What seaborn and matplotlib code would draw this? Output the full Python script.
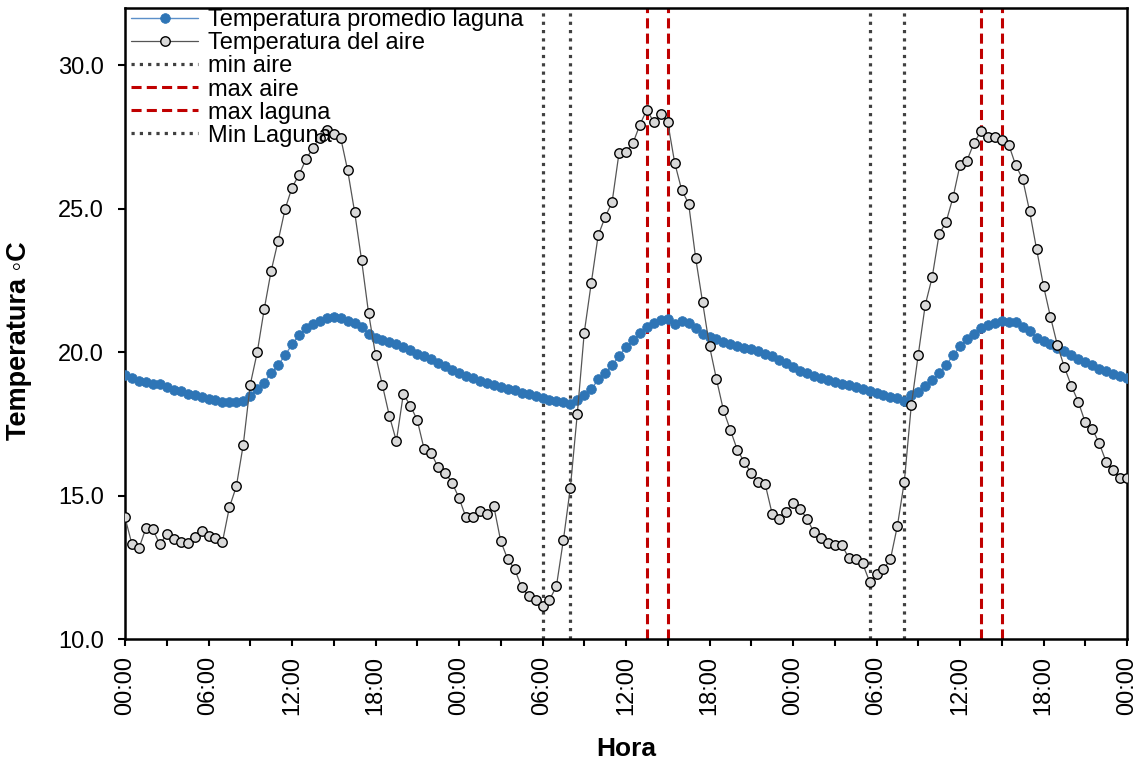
import numpy as np
import pandas as pd
import matplotlib
matplotlib.use("Agg")
import matplotlib.pyplot as plt
from matplotlib.ticker import FormatStrFormatter, MultipleLocator
import seaborn as sns

# ---------------- data ----------------
horas = [i * 0.5 for i in range(145)]  # half-hourly, 3 days

temp_laguna = [
    19.19, 19.11, 19.01, 18.97, 18.90, 18.90, 18.79, 18.69, 18.63, 18.54,
    18.50, 18.43, 18.37, 18.33, 18.27, 18.25, 18.25, 18.29, 18.48, 18.71,
    18.94, 19.27, 19.55, 19.89, 20.27, 20.60, 20.83, 21.00, 21.10, 21.18,
    21.21, 21.20, 21.09, 21.01, 20.87, 20.63, 20.50, 20.44, 20.34, 20.27,
    20.18, 20.07, 19.94, 19.85, 19.75, 19.63, 19.51, 19.37, 19.26, 19.16,
    19.09, 19.01, 18.93, 18.87, 18.80, 18.73, 18.67, 18.58, 18.53, 18.47,
    18.41, 18.34, 18.29, 18.26, 18.21, 18.33, 18.50, 18.70, 19.05, 19.27,
    19.55, 19.87, 20.18, 20.42, 20.67, 20.87, 21.02, 21.11, 21.15, 20.98,
    21.08, 21.01, 20.85, 20.65, 20.52, 20.45, 20.36, 20.27, 20.21, 20.16,
    20.10, 20.03, 19.94, 19.85, 19.72, 19.61, 19.48, 19.35, 19.28, 19.17,
    19.10, 19.03, 18.95, 18.90, 18.84, 18.77, 18.70, 18.64, 18.56, 18.50,
    18.44, 18.40, 18.30, 18.49, 18.62, 18.81, 19.02, 19.28, 19.55, 19.89,
    20.20, 20.45, 20.65, 20.85, 20.96, 21.03, 21.07, 21.06, 21.05, 20.88,
    20.74, 20.51, 20.40, 20.28, 20.16, 20.03, 19.90, 19.76, 19.65, 19.54,
    19.41, 19.33, 19.23, 19.17, 19.10,
]

temp_aire = [
    14.24, 13.30, 13.16, 13.86, 13.82, 13.30, 13.65, 13.47, 13.39, 13.34,
    13.57, 13.77, 13.60, 13.51, 13.38, 14.59, 15.32, 16.78, 18.87, 19.99,
    21.49, 22.83, 23.87, 24.98, 25.74, 26.18, 26.72, 27.12, 27.48, 27.76,
    27.60, 27.47, 26.34, 24.89, 23.21, 21.37, 19.91, 18.84, 17.77, 16.90,
    18.54, 18.14, 17.63, 16.61, 16.48, 15.99, 15.80, 15.45, 14.92, 14.24,
    14.24, 14.47, 14.37, 14.63, 13.41, 12.78, 12.44, 11.80, 11.50, 11.36,
    11.14, 11.36, 11.84, 13.45, 15.27, 17.85, 20.68, 22.40, 24.07, 24.71,
    25.23, 26.95, 26.99, 27.29, 27.93, 28.46, 28.01, 28.32, 28.01, 26.60,
    25.66, 25.18, 23.30, 21.75, 20.21, 19.06, 17.98, 17.28, 16.59, 16.17,
    15.78, 15.49, 15.40, 14.37, 14.20, 14.44, 14.75, 14.54, 14.20, 13.72,
    13.51, 13.33, 13.29, 13.29, 12.83, 12.78, 12.64, 12.00, 12.26, 12.44,
    12.78, 13.94, 15.49, 18.15, 19.91, 21.64, 22.61, 24.11, 24.54, 25.40,
    26.52, 26.68, 27.29, 27.70, 27.50, 27.50, 27.41, 27.24, 26.52, 26.04,
    24.92, 23.60, 22.31, 21.23, 20.24, 19.48, 18.83, 18.27, 17.55, 17.33,
    16.83, 16.18, 15.89, 15.62, 15.62,
]

min_aire = [30.0, 53.5]
max_aire = [37.5, 61.5]
max_laguna = [39.0, 63.0]
min_laguna = [32.0, 56.0]

xtick_pos = [0, 6, 12, 18, 24, 30, 36, 42, 48, 54, 60, 66, 72]
xtick_labels = ["00:00", "06:00", "12:00", "18:00", "00:00", "06:00", "12:00",
                "18:00", "00:00", "06:00", "12:00", "18:00", "00:00"]

df = pd.DataFrame({"Hora": horas, "laguna": temp_laguna, "aire": temp_aire})

# ---------------- style ----------------
sns.set_style("ticks")
plt.rcParams["font.family"] = ["Liberation Sans", "DejaVu Sans"]
plt.rcParams["font.size"] = 17
for k in ["text.color", "axes.labelcolor", "xtick.color", "ytick.color", "axes.edgecolor"]:
    plt.rcParams[k] = "black"

fig = plt.figure(figsize=(11.39, 7.59), dpi=100)
ax = fig.add_axes([125 / 1139, 1 - 639 / 759, (1127 - 125) / 1139, (639 - 8) / 759])

sns.lineplot(data=df, x="Hora", y="laguna", ax=ax, color="#5B8FC9", linewidth=1.0,
             marker="o", markersize=7, markerfacecolor="#2E75B6",
             markeredgecolor="#2E75B6", markeredgewidth=0.5,
             label="Temperatura promedio laguna", zorder=3)
sns.lineplot(data=df, x="Hora", y="aire", ax=ax, color="#555555", linewidth=0.9,
             marker="o", markersize=6.8, markerfacecolor="#D9D9D9",
             markeredgecolor="black", markeredgewidth=1.0,
             label="Temperatura del aire", zorder=4)

ax.set_xlim(0, 72)
ax.set_ylim(10, 32)

dot = dict(color="#404040", linestyle=(0, (1, 1.6)), linewidth=2.3, ymin=0, ymax=1, zorder=2)
dash = dict(color="#C00000", linestyle=(0, (3.3, 1.7)), linewidth=2.2, ymin=0, ymax=1, zorder=2)
ax.axvline(min_aire[0], label="min aire", **dot)
ax.axvline(min_aire[1], **dot)
ax.axvline(max_aire[0], label="max aire", **dash)
ax.axvline(max_aire[1], **dash)
ax.axvline(max_laguna[0], label="max laguna", **dash)
ax.axvline(max_laguna[1], **dash)
ax.axvline(min_laguna[0], label="Min Laguna", **dot)
ax.axvline(min_laguna[1], **dot)

ax.set_xticks(xtick_pos)
ax.set_xticklabels(xtick_labels, rotation=90)
ax.xaxis.set_minor_locator(MultipleLocator(3))
ax.yaxis.set_major_locator(MultipleLocator(5))
ax.yaxis.set_major_formatter(FormatStrFormatter("%.1f"))
ax.tick_params(axis="both", which="both", direction="out", width=1.5, length=5,
               labelsize=17, color="black", labelcolor="black")
ax.tick_params(axis="y", which="major", pad=10)
ax.tick_params(axis="x", which="major", pad=7)

for sp in ax.spines.values():
    sp.set_visible(True)
    sp.set_linewidth(1.8)
    sp.set_color("black")

ax.set_xlabel("Hora", fontsize=19, fontweight="bold")
ax.set_ylabel("Temperatura \u25e6C", fontsize=19.5, fontweight="bold")
ax.xaxis.set_label_coords(0.5, -0.155)
ax.yaxis.set_label_coords(-0.093, 0.472)

leg = ax.legend(loc="upper left", bbox_to_anchor=(4 / 1002, 1.0 + 1 / 631),
                frameon=False, fontsize=17, handlelength=2.84,
                labelspacing=0.045, borderaxespad=0.0, borderpad=0.1,
                handletextpad=0.42)

fig.savefig("out.png", dpi=100)
